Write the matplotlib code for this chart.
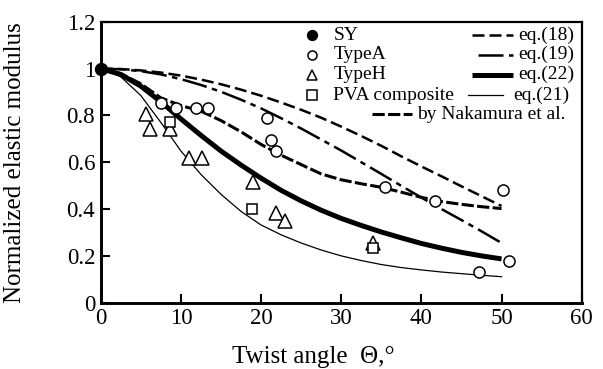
import matplotlib
matplotlib.use("Agg")
import matplotlib.pyplot as plt
from matplotlib.lines import Line2D

plt.rcParams['font.family'] = ['Liberation Serif', 'DejaVu Serif']
plt.rcParams['mathtext.fontset'] = 'stix'

# ---- measured data -------------------------------------------------------
sy_angle = [0.0]
sy_modulus = [1.0]

typeA_angle = [7.5, 9.35, 11.9, 13.4, 20.8, 21.2, 21.9, 35.45, 41.7, 50.2, 50.9, 47.2]
typeA_modulus = [0.851, 0.832, 0.832, 0.832, 0.79, 0.694, 0.647, 0.494, 0.434, 0.48, 0.179, 0.131]

typeH_angle = [5.6, 6.15, 8.7, 11.0, 12.6, 19.0, 21.9, 23.0, 34.0]
typeH_modulus = [0.804, 0.74, 0.74, 0.618, 0.618, 0.514, 0.383, 0.347, 0.254]

pva_angle = [8.64, 18.9, 34.0]
pva_modulus = [0.772, 0.40, 0.234]

# ---- model curves --------------------------------------------------------
curve_angle = [0, 2.5, 5, 7.5, 10, 12.5, 15, 17.5, 20, 22.5, 25,
               27.5, 30, 32.5, 35, 37.5, 40, 42.5, 45, 47.5, 50]
eq18 = [1.000, 0.998, 0.992, 0.983, 0.970, 0.953, 0.933, 0.910, 0.884, 0.855, 0.824,
        0.790, 0.752, 0.712, 0.670, 0.625, 0.582, 0.540, 0.497, 0.455, 0.413]
eq19 = [1.000, 0.997, 0.989, 0.975, 0.955, 0.930, 0.901, 0.867, 0.830, 0.788, 0.744,
        0.697, 0.650, 0.600, 0.550, 0.499, 0.449, 0.400, 0.353, 0.305, 0.255]
eq22 = [1.000, 0.975, 0.925, 0.858, 0.785, 0.715, 0.648, 0.588, 0.532, 0.480, 0.435,
        0.395, 0.360, 0.330, 0.302, 0.277, 0.253, 0.233, 0.215, 0.200, 0.187]
eq21 = [1.000, 0.965, 0.885, 0.770, 0.648, 0.548, 0.463, 0.390, 0.332, 0.290, 0.255,
        0.225, 0.200, 0.180, 0.163, 0.150, 0.140, 0.131, 0.124, 0.117, 0.111]
nakamura = [1.000, 0.978, 0.935, 0.875, 0.842, 0.818, 0.778, 0.730, 0.676, 0.630, 0.590,
            0.550, 0.525, 0.508, 0.493, 0.472, 0.450, 0.432, 0.420, 0.410, 0.402]

x_ticks = [0, 10, 20, 30, 40, 50, 60]
y_ticks = [0, 0.2, 0.4, 0.6, 0.8, 1.0, 1.2]
y_tick_labels = ['0', '0.2', '0.4', '0.6', '0.8', '1', '1.2']

# ---- line styles ---------------------------------------------------------
style18 = dict(color='black', lw=1.8, linestyle=(0, (4.8, 2.0)))
style19 = dict(color='black', lw=1.8, linestyle=(0, (10, 2.2, 2.2, 2.2)))
style22 = dict(color='black', lw=3.6, linestyle='-', solid_capstyle='butt')
style21 = dict(color='black', lw=0.9, linestyle='-')
styleN = dict(color='black', lw=2.2, linestyle=(0, (4.0, 1.1)))

fig = plt.figure(figsize=(6.03, 3.69), dpi=100)
ax = fig.add_axes([0.167, 0.1797, 0.7977, 0.7614])

ax.plot(curve_angle, eq18, **style18)
ax.plot(curve_angle, eq19, **style19)
ax.plot(curve_angle, nakamura, **styleN)
ax.plot(curve_angle, eq22, **style22)
ax.plot(curve_angle, eq21, **style21)

mk = dict(linestyle='none', markeredgecolor='black', markeredgewidth=1.1, zorder=5)
ax.plot(typeA_angle, typeA_modulus, marker='o', markersize=8, markerfacecolor='white', **mk)
ax.plot(typeH_angle, typeH_modulus, marker='^', markersize=10.5, markerfacecolor='white', **mk)
ax.plot(pva_angle, pva_modulus, marker='s', markersize=7.2, markerfacecolor='white', **mk)
ax.plot(sy_angle, sy_modulus, marker='o', markersize=8.5, markerfacecolor='black',
        clip_on=False, **mk)

ax.set_xlim(0, 60)
ax.set_ylim(0, 1.2)
ax.set_xticks(x_ticks)
ax.set_yticks(y_ticks)
ax.set_yticklabels(y_tick_labels)
ax.tick_params(direction='in', length=6.5, width=1.5, labelsize=16.5)
ax.tick_params(axis='x', pad=4)
ax.tick_params(axis='y', pad=4)
for side in ['top', 'right']:
    ax.spines[side].set_linewidth(1.6)
for side in ['left', 'bottom']:
    ax.spines[side].set_linewidth(2.1)

ax.set_ylabel('Normalized elastic modulus', fontsize=18)
ax.yaxis.set_label_coords(-0.155, 0.5)
ax.set_xlabel('Twist angle  Θ,°', fontsize=18)
ax.xaxis.set_label_coords(0.441, -0.155)

# ---- legend --------------------------------------------------------------
T = ax.transAxes
fs = 14
rows = [0.9527, 0.8833, 0.8121, 0.7391, 0.6715]
sym_x, sym_tx = 0.44, 0.4836
sym_entries = [
    ('SY', dict(marker='o', markersize=7, markerfacecolor='black')),
    ('TypeA', dict(marker='o', markersize=6.5, markerfacecolor='white')),
    ('TypeH', dict(marker='^', markersize=7.5, markerfacecolor='white')),
    ('PVA composite', dict(marker='s', markersize=6.5, markerfacecolor='white')),
]
for (label, st), yy in zip(sym_entries, rows):
    ax.add_line(Line2D([sym_x], [yy], transform=T, linestyle='none',
                       markeredgecolor='black', markeredgewidth=1.1, clip_on=False, **st))
    ax.text(sym_tx, yy, label, transform=T, fontsize=fs, va='center', ha='left')

line_entries = [
    ('eq.(18)', style18, 0.7713, 0.8578, 0.8682),
    ('eq.(19)', style19, 0.7844, 0.8578, 0.8682),
    ('eq.(22)', style22, 0.7713, 0.8578, 0.8682),
    ('eq.(21)', style21, 0.7636, 0.8364, 0.8578),
    ('by Nakamura et al.', styleN, 0.5634, 0.6466, 0.6576),
]
for (label, st, x0, x1, tx), yy in zip(line_entries, rows):
    ax.add_line(Line2D([x0, x1], [yy, yy], transform=T, clip_on=False, **st))
    ax.text(tx, yy, label, transform=T, fontsize=fs, va='center', ha='left')

fig.savefig('out.png', dpi=100)
